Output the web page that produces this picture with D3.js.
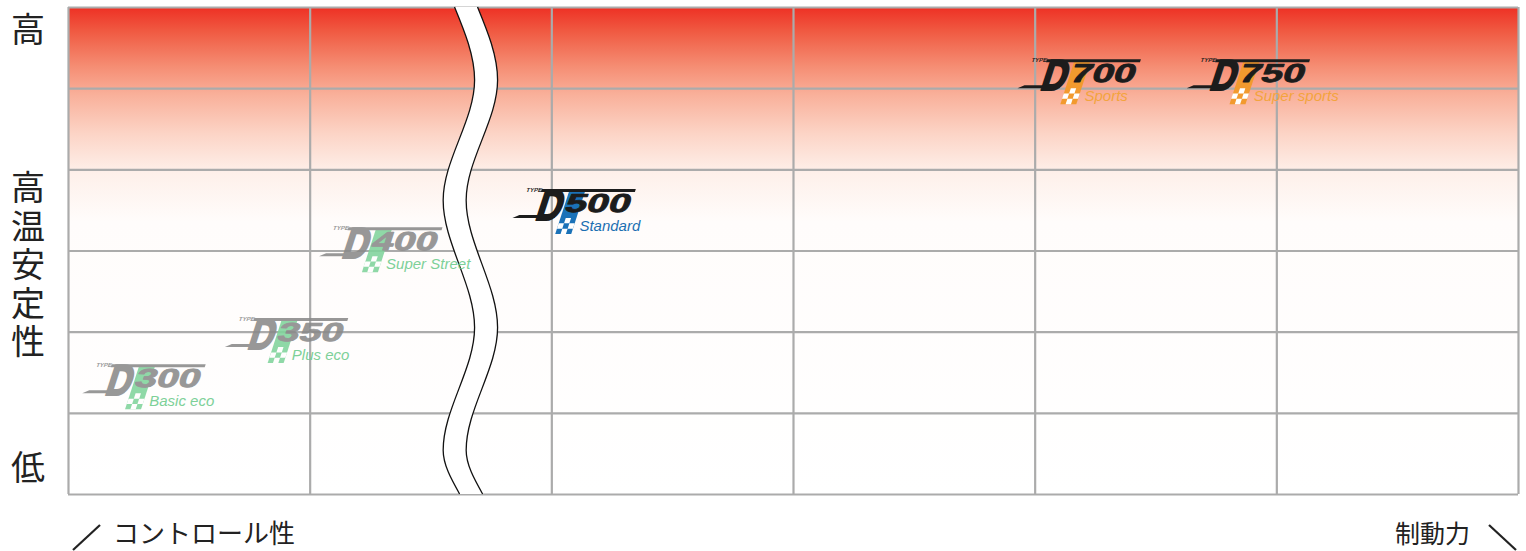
<!DOCTYPE html>
<html>
<head>
<meta charset="utf-8">
<script src="https://cdn.jsdelivr.net/npm/d3@7"></script>
<style>
  body { margin: 0; background: #fff; }
  svg { display: block; }
</style>
</head>
<body>
<svg id="chart" width="1526" height="551"></svg>
<script>
// --- data (grid units: 0..6 on both axes) ---
var models       = ['300', '350', '400', '500', '700', '750'];
var subtitles    = ['Basic eco', 'Plus eco', 'Super Street', 'Standard', 'Sports', 'Super sports'];
var lineups      = ['eco', 'eco', 'eco', 'standard', 'sports', 'sports'];
var controlScore = [0.15, 0.74, 1.13, 1.93, 4.02, 4.72];   // x: control <-> braking
var heatScore    = [1.24, 1.81, 2.93, 3.40, 5.00, 5.00];   // y: high-temp stability
var xTicks = [0, 1, 2, 3, 4, 5, 6];
var yTicks = [0, 1, 2, 3, 4, 5, 6];
// the wavy "break" band, centre line
var waveY = [6, 5.1, 3.62, 2.05, 0.54, 0];
var waveX = [1.647, 1.73, 1.60, 1.73, 1.60, 1.668];

var yLabelTop = '高';
var yLabelMid = '高温安定性';
var yLabelLow = '低';
var xLabelLeft = 'コントロール性';
var xLabelRight = '制動力';

// --- styles ---
var lineupStyle = {
  eco:      { ink: '#8a8a8a', accent: '#80d49c', sub: '#6ccb8b', opacity: 0.88 },
  standard: { ink: '#1c1c1c', accent: '#1b72b8', sub: '#1b6fb2', opacity: 1 },
  sports:   { ink: '#1c1c1c', accent: '#f29a2e', sub: '#f3a43e', opacity: 1 }
};

var svg = d3.select('#chart');
var plotL = 68, plotR = 1518, plotT = 7, plotB = 494;

var x = d3.scaleLinear().domain([0, 6]).range([plotL, plotR]);
var y = d3.scaleLinear().domain([0, 6]).range([plotB, plotT]);

// background gradient
var defs = svg.append('defs');
var grad = defs.append('linearGradient').attr('id', 'heat')
  .attr('x1', 0).attr('y1', 0).attr('x2', 0).attr('y2', 1);
[[0, '#ee3024'], [0.05, '#f05a42'], [0.12, '#f58c72'], [0.18, '#f9b09a'],
 [0.26, '#fcd4c6'], [0.34, '#fef0ea'], [0.44, '#fffcfb'], [1, '#ffffff']]
  .forEach(s => grad.append('stop').attr('offset', s[0]).attr('stop-color', s[1]));

svg.append('rect')
  .attr('x', plotL).attr('y', plotT)
  .attr('width', plotR - plotL).attr('height', plotB - plotT)
  .attr('fill', 'url(#heat)');

// grid through axes
var gx = svg.append('g')
  .attr('transform', 'translate(0,' + plotB + ')')
  .call(d3.axisBottom(x).tickValues(xTicks).tickSize(-(plotB - plotT)).tickFormat(''));
var gy = svg.append('g')
  .attr('transform', 'translate(' + plotL + ',0)')
  .call(d3.axisLeft(y).tickValues(yTicks).tickSize(-(plotR - plotL)).tickFormat(''));
[gx, gy].forEach(g => {
  g.select('.domain').remove();
  g.selectAll('.tick line').attr('stroke', '#ababab').attr('stroke-width', 2.2);
});

// wavy break band
var halfW = 11.5;
var wave = d3.range(waveY.length).map(i => [x(waveX[i]), y(waveY[i])]);
var edge = d3.line().x(d => d[0]).y(d => d[1]).curve(d3.curveMonotoneY);
var leftEdge = wave.map(p => [p[0] - halfW, p[1]]);
var rightEdge = wave.map(p => [p[0] + halfW, p[1]]);
var band = d3.area().y(d => d[1]).x0(d => d[0] - halfW).x1(d => d[0] + halfW).curve(d3.curveMonotoneY);
svg.append('path').attr('d', band(wave)).attr('fill', '#fff');
svg.append('path').attr('d', edge(leftEdge)).attr('fill', 'none').attr('stroke', '#111').attr('stroke-width', 1.3);
svg.append('path').attr('d', edge(rightEdge)).attr('fill', 'none').attr('stroke', '#111').attr('stroke-width', 1.3);

// product logos
var logo = svg.selectAll('g.logo')
  .data(d3.range(models.length))
  .join('g')
  .attr('class', 'logo')
  .attr('opacity', i => lineupStyle[lineups[i]].opacity)
  .attr('transform', i => 'translate(' + x(controlScore[i]) + ',' + y(heatScore[i]) + ')');

var sk = logo.append('g').attr('transform', 'skewX(-18)');

// accent stripe with checker foot
var bandX = 26, bandW = 16, cell = bandW / 3;
sk.append('rect')
  .attr('x', bandX).attr('y', -28).attr('width', bandW).attr('height', 28 + bandW)
  .attr('fill', i => lineupStyle[lineups[i]].accent);
var checker = [[1, 0], [0, 1], [2, 1], [1, 2]];
checker.forEach(c => {
  sk.append('rect')
    .attr('x', bandX + c[0] * cell).attr('y', c[1] * cell)
    .attr('width', cell).attr('height', cell)
    .attr('fill', '#fff');
});

// top bar and bottom tail
sk.append('rect')
  .attr('x', -2).attr('y', -29).attr('width', 94).attr('height', 3)
  .attr('fill', i => lineupStyle[lineups[i]].ink);
sk.append('path')
  .attr('d', 'M-22,0 L20,0 L20,-3 L-16,-3 Z')
  .attr('fill', i => lineupStyle[lineups[i]].ink);

sk.append('text')
  .attr('x', -17).attr('y', -26)
  .attr('font-family', 'Liberation Sans, Arial, sans-serif')
  .attr('font-weight', 'bold').attr('font-size', 6)
  .attr('fill', i => lineupStyle[lineups[i]].ink)
  .text('TYPE');

sk.append('text')
  .attr('transform', 'translate(0,1.5) scale(0.8,1)')
  .attr('font-family', 'Liberation Sans, Arial, sans-serif')
  .attr('font-weight', 'bold').attr('font-size', 43)
  .attr('fill', i => lineupStyle[lineups[i]].ink)
  .attr('stroke', i => lineupStyle[lineups[i]].ink)
  .attr('stroke-width', 2.2).attr('stroke-linejoin', 'round')
  .text('D');

sk.append('text')
  .attr('transform', 'translate(27,-6) scale(1.5,1)')
  .attr('font-family', 'Liberation Sans, Arial, sans-serif')
  .attr('font-weight', 'bold').attr('font-size', 26)
  .attr('fill', i => lineupStyle[lineups[i]].ink)
  .attr('stroke', i => lineupStyle[lineups[i]].ink)
  .attr('stroke-width', 0.8).attr('stroke-linejoin', 'round')
  .text(i => models[i]);

logo.append('text')
  .attr('x', 45).attr('y', 12.5)
  .attr('font-family', 'Liberation Sans, Arial, sans-serif')
  .attr('font-style', 'italic').attr('font-size', 15)
  .attr('fill', i => lineupStyle[lineups[i]].sub)
  .text(i => subtitles[i]);

// axis titles
var jp = '"Noto Sans CJK JP", "Noto Sans", sans-serif';
svg.append('text')
  .attr('x', 28).attr('y', 42)
  .attr('text-anchor', 'middle')
  .attr('font-family', jp).attr('font-size', 34).attr('fill', '#222')
  .text(yLabelTop);
svg.append('text')
  .attr('text-anchor', 'middle')
  .attr('font-family', jp).attr('font-size', 34).attr('fill', '#222')
  .selectAll('tspan')
  .data(Array.from(yLabelMid))
  .join('tspan')
  .attr('x', 28)
  .attr('y', (d, i) => 200 + i * 38.6)
  .text(d => d);
svg.append('text')
  .attr('x', 28).attr('y', 480)
  .attr('text-anchor', 'middle')
  .attr('font-family', jp).attr('font-size', 34).attr('fill', '#222')
  .text(yLabelLow);

svg.append('line')
  .attr('x1', 73).attr('y1', 550).attr('x2', 100).attr('y2', 525)
  .attr('stroke', '#222').attr('stroke-width', 2.2);
svg.append('text')
  .attr('x', 113).attr('y', 543)
  .attr('font-family', jp).attr('font-size', 26).attr('fill', '#222')
  .text(xLabelLeft);

svg.append('text')
  .attr('x', 1470).attr('y', 543)
  .attr('text-anchor', 'end')
  .attr('font-family', jp).attr('font-size', 25).attr('fill', '#222')
  .text(xLabelRight);
svg.append('line')
  .attr('x1', 1489).attr('y1', 525).attr('x2', 1516).attr('y2', 550)
  .attr('stroke', '#222').attr('stroke-width', 2.2);
</script>
</body>
</html>
